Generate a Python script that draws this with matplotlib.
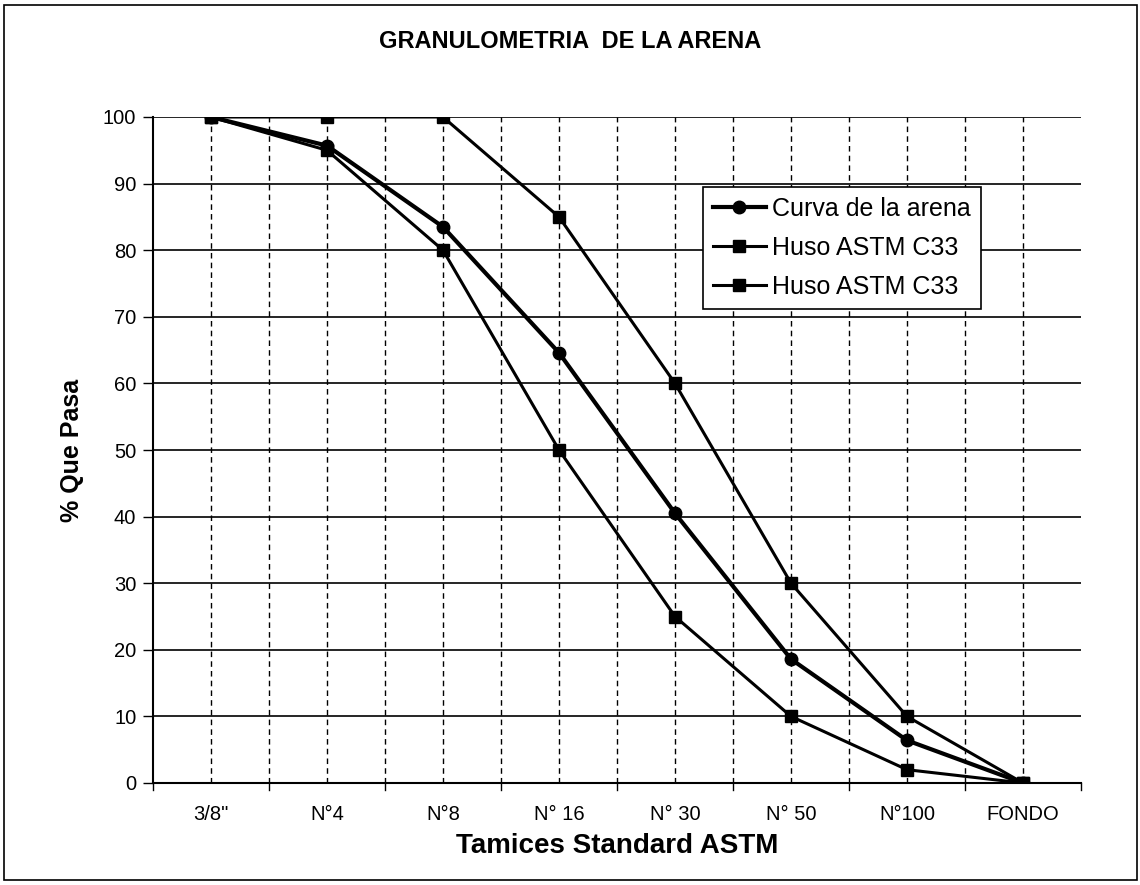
import matplotlib
matplotlib.use('Agg')
import matplotlib.pyplot as plt
from matplotlib.patches import Rectangle

plt.rcParams['font.family'] = ['Liberation Sans', 'DejaVu Sans']

# tamices y porcentajes que pasan
tamices = ['3/8"', 'N°4', 'N°8', 'N° 16', 'N° 30', 'N° 50', 'N°100', 'FONDO']
curva_arena = [100, 95.7, 83.5, 64.6, 40.5, 18.6, 6.4, 0]
huso_sup = [100, 100, 100, 85, 60, 30, 10, 0]
huso_inf = [100, 95, 80, 50, 25, 10, 2, 0]

W, H = 1140, 885
fig = plt.figure(figsize=(W / 100, H / 100), dpi=100)
ax = fig.add_axes([153 / W, 1 - 783 / H, 928 / W, 666 / H])

x = list(range(len(tamices)))
ax.plot(x, curva_arena, color='black', lw=3, marker='o', ms=9, label='Curva de la arena', zorder=5)
ax.plot(x, huso_sup, color='black', lw=2.2, marker='s', ms=8, label='Huso ASTM C33', zorder=4)
ax.plot(x, huso_inf, color='black', lw=2.2, marker='s', ms=8, label='Huso ASTM C33', zorder=4)

ax.set_xlim(-0.5, len(tamices) - 0.5)
ax.set_ylim(0, 100)
ax.set_yticks(range(0, 101, 10))
ax.set_xticks(x)
ax.set_xticklabels(tamices, fontsize=14.5)
ax.tick_params(axis='x', length=0, pad=16)
ax.tick_params(axis='y', labelsize=14.5, direction='out', length=7, width=1, pad=5)

# grilla: horizontales continuas, verticales discontinuas
for yv in range(10, 101, 10):
    ax.axhline(yv, color='black', lw=1.2, zorder=1)
for xv in [i * 0.5 - 0.5 for i in range(1, 2 * len(tamices))]:
    ax.axvline(xv, color='black', lw=1, ls=(0, (4, 3)), zorder=1)
# marcas de categoria bajo el eje
for xv in [i - 0.5 for i in range(len(tamices) + 1)]:
    ax.plot([xv, xv], [0, -1.0], color='black', lw=1, clip_on=False)

for s in ['top', 'right']:
    ax.spines[s].set_visible(False)
ax.spines['left'].set_linewidth(1.5)
ax.spines['bottom'].set_linewidth(1.5)

ax.set_ylabel('% Que Pasa', fontsize=18, fontweight='bold', labelpad=14)
ax.set_xlabel('Tamices Standard ASTM', fontsize=20, fontweight='bold', labelpad=6)
fig.text(0.5, 1 - 42 / H, 'GRANULOMETRIA  DE LA ARENA', ha='center', va='center',
         fontsize=17, fontweight='bold')

leg = ax.legend(loc='upper left', bbox_to_anchor=((703 - 153) / 928, (783 - 187) / 666),
                fontsize=18, frameon=True, fancybox=False, edgecolor='black', framealpha=1,
                handlelength=2.1, handletextpad=0.25, borderpad=0.4, labelspacing=0.6,
                borderaxespad=0)
leg.get_frame().set_linewidth(1.2)

fig.patches.append(Rectangle((4 / W, 5 / H), 1133 / W, 875 / H, transform=fig.transFigure,
                             fill=False, edgecolor='black', lw=1.2))

fig.savefig('out.png', dpi=100)
